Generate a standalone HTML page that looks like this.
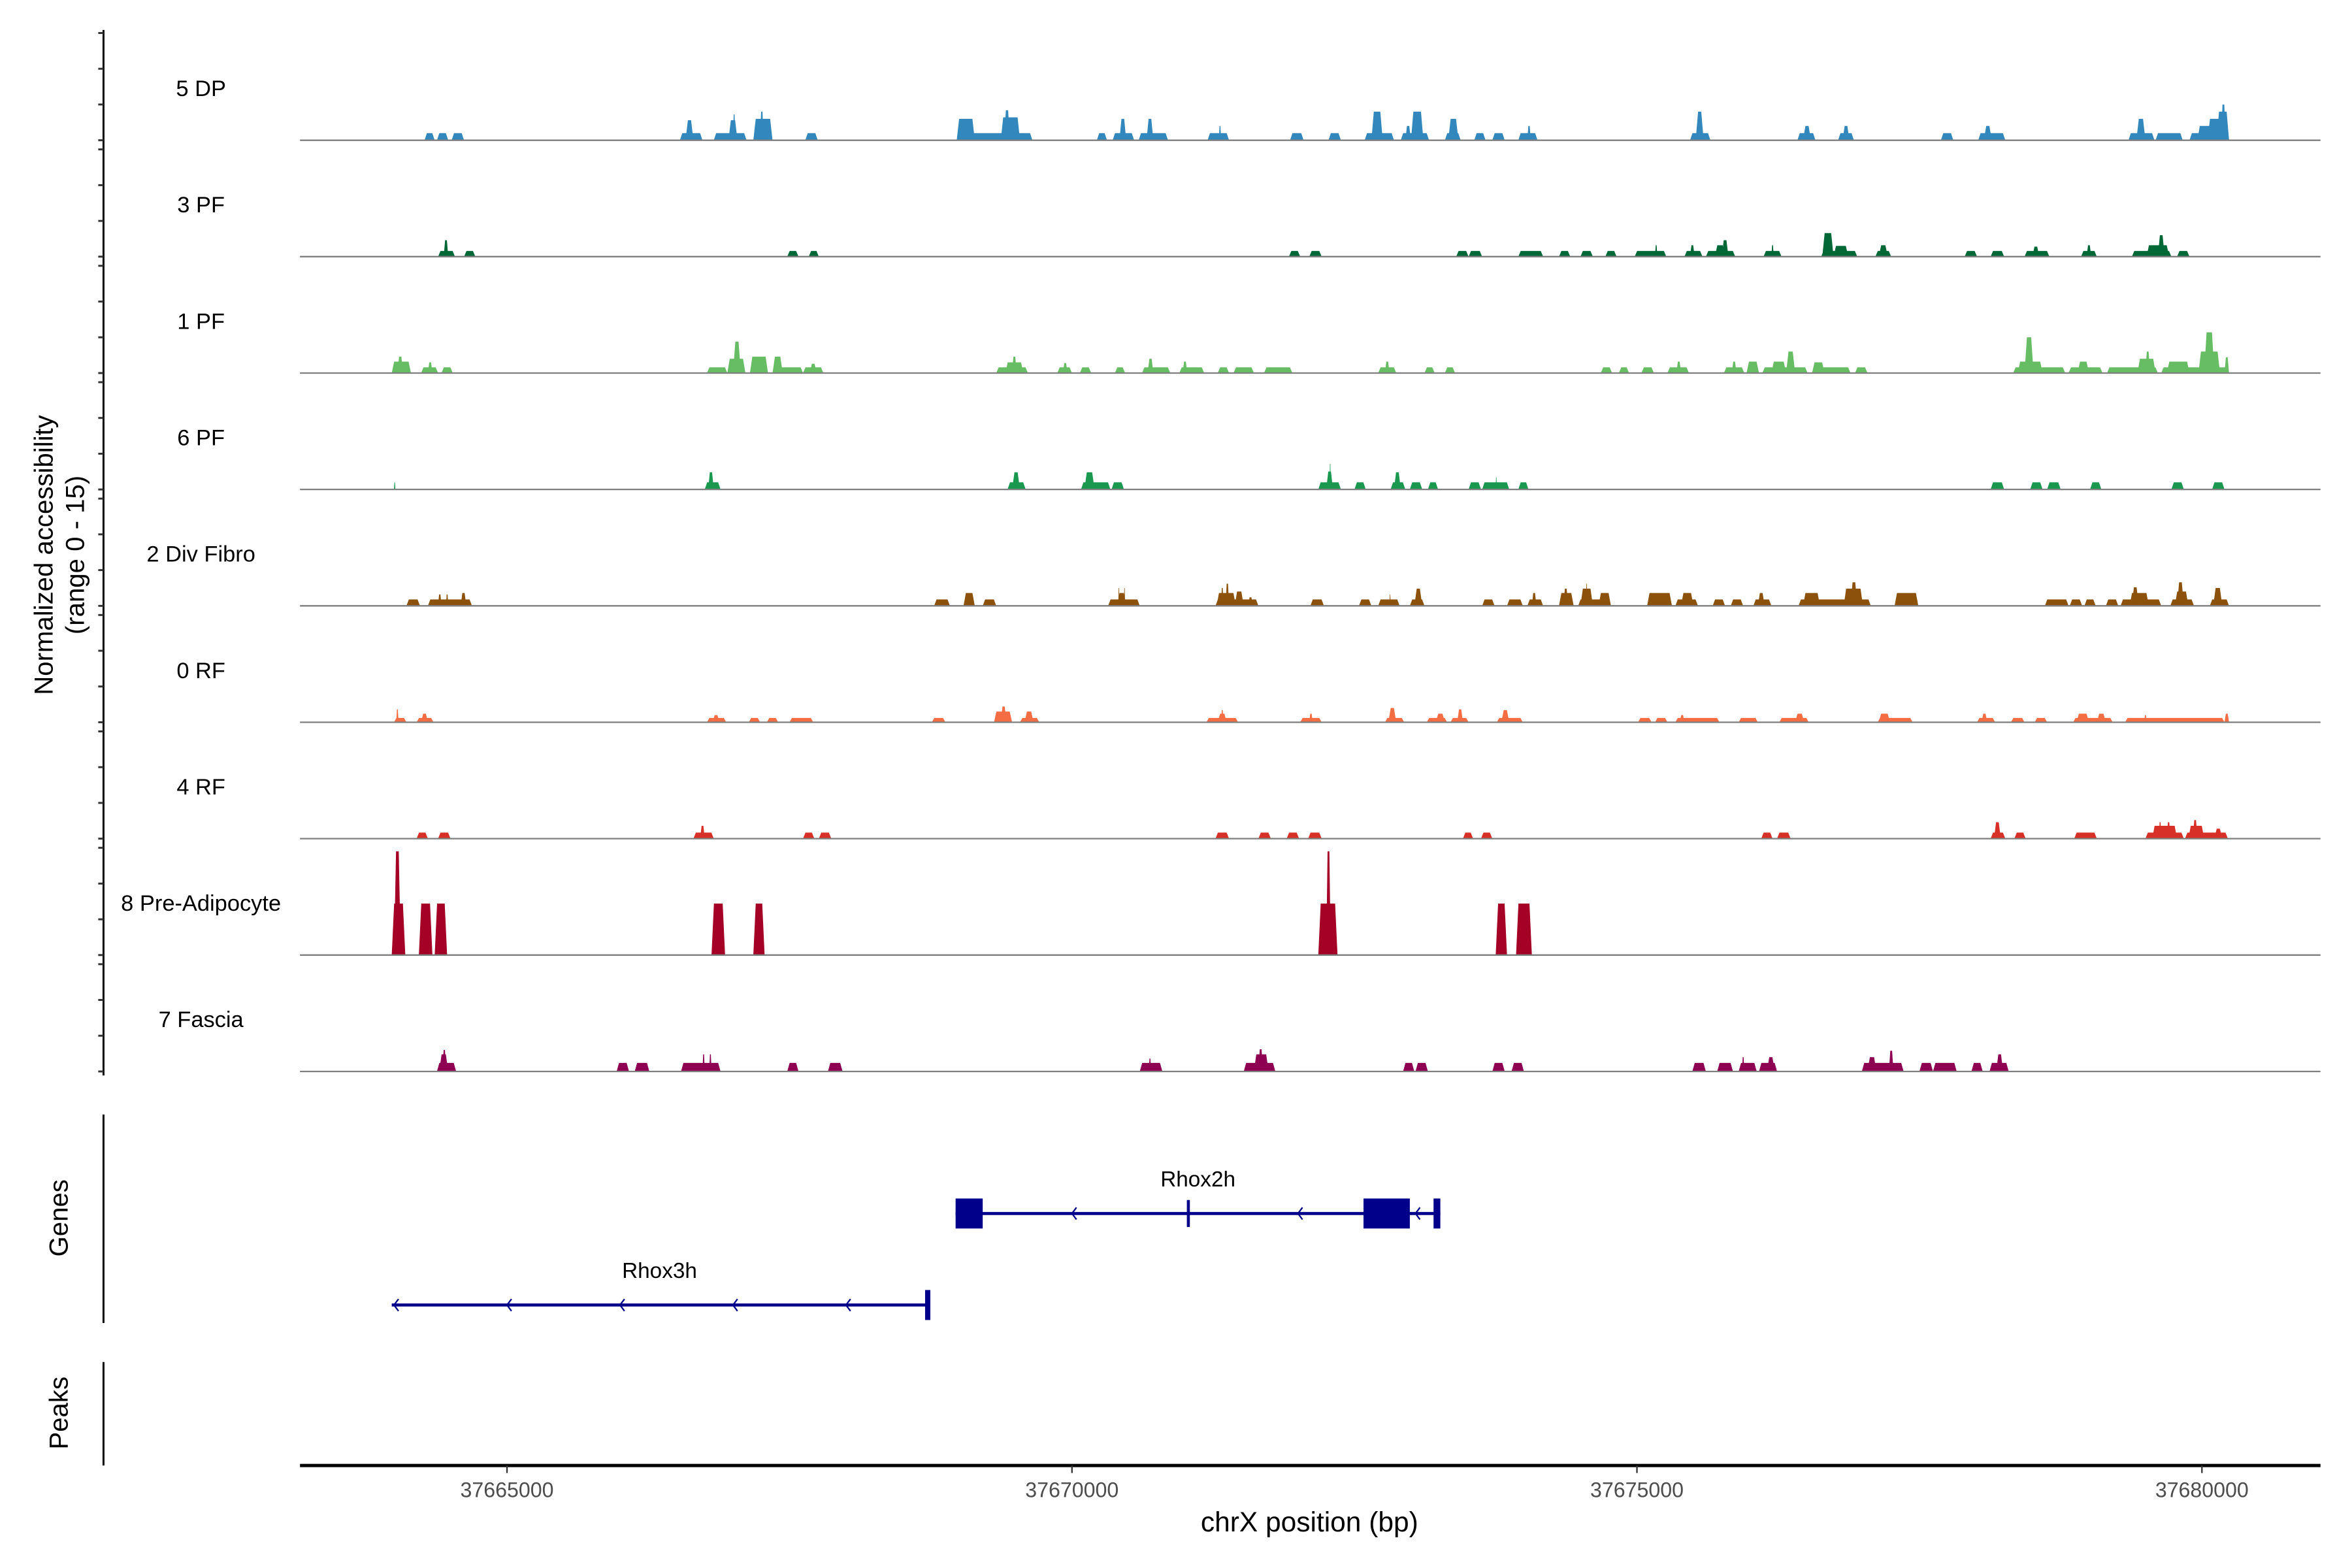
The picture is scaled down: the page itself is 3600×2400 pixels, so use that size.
<!DOCTYPE html>
<html><head><meta charset="utf-8">
<style>
html,body{margin:0;padding:0;background:#fff;}
svg{display:block;font-family:"Liberation Sans",Arial,sans-serif;}
</style></head>
<body>
<svg id="chart" width="3600" height="2400" viewBox="0 0 1568 1045.33" preserveAspectRatio="none" xmlns="http://www.w3.org/2000/svg">
<g id="tracks"></g>
<g id="genes"></g>
<g id="axes"></g>
<text transform="translate(35,370) rotate(-90)" text-anchor="middle" font-size="17.5" fill="#000">Normalized accessibility</text>
<text transform="translate(56,370) rotate(-90)" text-anchor="middle" font-size="17.5" fill="#000">(range 0 - 15)</text>
<text transform="translate(45,812) rotate(-90)" text-anchor="middle" font-size="17.5" fill="#000">Genes</text>
<text transform="translate(45,942) rotate(-90)" text-anchor="middle" font-size="17.5" fill="#000">Peaks</text>
<text x="873" y="1021" text-anchor="middle" font-size="18.5" fill="#000">chrX position (bp)</text>
</svg>
<script>
// ---- data (positions in kb, heights in normalized units 0-15) ----
const trackNames = ["5 DP","3 PF","1 PF","6 PF","2 Div Fibro","0 RF","4 RF","8 Pre-Adipocyte","7 Fascia"];
const trackColors = ["#3288BD","#006837","#66BD63","#1A9850","#8C510A","#F46D43","#D73027","#A50026","#8E0152"];
const xTicks = [37665,37670,37675,37680];
const xTickLabels = ["37665000","37670000","37675000","37680000"];
const yTickValues = [0,5,10,15];

const dp5 = [[37664.27,37664.36,1],[37664.38,37664.48,1],[37664.51,37664.62,1],
[37666.53,37666.73,1],[37666.58,37666.65,2.8],[37666.83,37667.12,1],[37666.96,37667.04,2.8],[37667.0,37667.02,3.6],
[37667.18,37667.35,3],[37667.24,37667.27,4],[37667.64,37667.75,1],
[37668.98,37669.65,1],[37668.98,37669.14,3],[37669.37,37669.54,3.2],[37669.40,37669.45,4.2],
[37670.22,37670.31,1],[37670.36,37670.55,1],[37670.42,37670.48,3],[37670.59,37670.85,1],[37670.66,37670.72,3],
[37671.20,37671.39,1],[37671.30,37671.32,2],[37671.93,37672.05,1],[37672.27,37672.38,1],
[37672.59,37672.85,1],[37672.65,37672.75,4],[37672.91,37673.16,1],[37672.95,37673.0,2],[37673.00,37673.11,4],
[37673.30,37673.44,1],[37673.33,37673.42,3],[37673.56,37673.66,1],[37673.72,37673.83,1],[37673.95,37674.12,1],[37674.03,37674.06,2],
[37675.47,37675.65,1],[37675.52,37675.59,4],[37676.42,37676.58,1],[37676.47,37676.54,2],[37676.78,37676.92,1],[37676.82,37676.88,2],
[37677.69,37677.80,1],[37678.02,37678.26,1],[37678.07,37678.14,2],
[37679.35,37679.58,1],[37679.42,37679.50,3],[37679.59,37679.83,1],
[37679.89,37680.24,1],[37679.96,37680.24,2],[37680.05,37680.24,3],[37680.13,37680.24,4],[37680.17,37680.21,5]];

const pf3 = [[37664.39,37664.54,0.8],[37664.44,37664.48,2.3],[37664.62,37664.72,0.8],[37667.48,37667.58,0.8],[37667.67,37667.76,0.8],
[37671.92,37672.02,0.8],[37672.10,37672.21,0.8],[37673.40,37673.51,0.8],[37673.51,37673.63,0.8],[37673.95,37674.17,0.8],
[37674.31,37674.41,0.8],[37674.50,37674.61,0.8],[37674.72,37674.82,0.8],[37674.98,37675.26,0.8],[37675.16,37675.18,1.6],
[37675.42,37675.58,0.8],[37675.47,37675.51,1.6],[37675.61,37675.87,0.8],[37675.69,37675.78,1.6],[37675.75,37675.81,2.3],
[37676.12,37676.28,0.8],[37676.19,37676.21,1.6],[37676.63,37676.95,0.8],[37676.64,37676.74,3.3],[37676.74,37676.87,1.5],
[37677.11,37677.25,0.8],[37677.14,37677.22,1.6],[37677.90,37678.01,0.8],[37678.13,37678.25,0.8],[37678.43,37678.65,0.8],[37678.50,37678.56,1.4],
[37678.93,37679.07,0.8],[37678.98,37679.02,1.6],[37679.38,37679.73,0.8],[37679.51,37679.71,1.6],[37679.61,37679.67,3],[37679.78,37679.89,0.8]];

const pf1 = [[37663.98,37664.15,1.6],[37664.03,37664.08,2.3],[37664.24,37664.39,0.8],[37664.30,37664.34,1.5],[37664.42,37664.52,0.8],
[37666.77,37666.95,0.8],[37666.95,37667.11,2],[37667.00,37667.07,4.4],[37667.15,37667.31,2.3],[37667.35,37667.62,0.8],[37667.35,37667.44,2.3],
[37667.62,37667.80,0.8],[37667.68,37667.74,1.3],
[37669.33,37669.61,0.8],[37669.41,37669.57,1.5],[37669.47,37669.51,2.3],[37669.87,37670.00,0.8],[37669.92,37669.96,1.4],
[37670.07,37670.17,0.8],[37670.38,37670.47,0.8],[37670.62,37670.87,0.8],[37670.67,37670.72,2],
[37670.95,37671.17,0.8],[37670.98,37671.02,1.6],[37671.29,37671.39,0.8],[37671.43,37671.61,0.8],[37671.70,37671.95,0.8],
[37672.71,37672.87,0.8],[37672.77,37672.81,1.6],[37673.12,37673.21,0.8],[37673.30,37673.39,0.8],
[37674.68,37674.78,0.8],[37674.84,37674.93,0.8],[37675.04,37675.15,0.8],[37675.27,37675.46,0.8],[37675.35,37675.39,1.6],
[37675.77,37675.95,0.8],[37675.84,37675.88,1.6],[37675.97,37676.08,1.6],[37676.11,37676.51,0.8],[37676.19,37676.32,1.6],[37676.32,37676.40,3],
[37676.55,37676.89,0.8],[37676.55,37676.66,1.5],[37676.93,37677.04,0.8],
[37678.33,37678.79,0.8],[37678.37,37678.59,1.6],[37678.43,37678.51,5],[37678.82,37679.12,0.8],[37678.90,37679.00,1.6],
[37679.16,37679.61,0.8],[37679.43,37679.59,2],[37679.50,37679.54,3],
[37679.64,37680.24,0.8],[37679.69,37679.89,1.6],[37679.97,37680.16,3],[37680.02,37680.11,5.7],[37680.20,37680.24,2.2]];

const pf6 = [[37664.0,37664.012,1],[37666.75,37666.89,1],[37666.78,37666.83,2.4],[37669.43,37669.59,1],[37669.47,37669.54,2.4],
[37670.08,37670.34,1],[37670.11,37670.20,2.4],[37670.35,37670.46,1],
[37672.18,37672.38,1],[37672.25,37672.31,2.5],[37672.28,37672.29,3.6],[37672.50,37672.60,1],[37672.82,37672.95,1],[37672.85,37672.91,2.4],
[37672.99,37673.10,1],[37673.15,37673.24,1],[37673.51,37673.62,1],[37673.63,37673.87,1],[37673.75,37673.76,1.7],[37673.95,37674.04,1],
[37678.13,37678.25,1],[37678.48,37678.59,1],[37678.63,37678.75,1],[37679.01,37679.11,1],[37679.73,37679.84,1],[37680.09,37680.20,1]];

const divFibro2 = [[37664.11,37664.23,0.9],[37664.30,37664.69,0.9],[37664.39,37664.42,1.6],[37664.46,37664.48,1.6],[37664.59,37664.64,1.8],
[37668.78,37668.92,0.9],[37669.04,37669.14,1.8],[37669.21,37669.33,0.9],
[37670.32,37670.60,0.9],[37670.40,37670.48,1.8],[37670.41,37670.42,2.5],[37670.46,37670.47,2.5],
[37671.27,37671.65,0.9],[37671.28,37671.45,1.8],[37671.32,37671.34,2.5],[37671.36,37671.39,3.1],[37671.44,37671.52,2],[37671.56,37671.60,1.2],
[37672.11,37672.23,0.9],[37672.54,37672.65,0.9],[37672.71,37672.90,0.9],[37672.81,37672.82,1.6],
[37672.99,37673.12,0.9],[37673.03,37673.10,2.4],[37673.63,37673.74,0.9],[37673.85,37673.99,0.9],[37674.03,37674.17,0.9],[37674.07,37674.11,1.8],
[37674.31,37674.44,1.8],[37674.35,37674.39,2.4],[37674.48,37674.77,0.9],[37674.50,37674.61,2.4],[37674.55,37674.56,3.1],[37674.66,37674.77,1.8],
[37675.09,37675.31,1.8],[37675.34,37675.54,0.9],[37675.39,37675.50,1.8],[37675.67,37675.78,0.9],[37675.83,37675.94,0.9],
[37676.03,37676.19,0.9],[37676.07,37676.13,1.8],[37676.43,37677.07,0.9],[37676.47,37676.62,1.8],[37676.83,37677.00,2.4],[37676.89,37676.95,3.3],
[37677.28,37677.49,1.8],[37678.61,37678.82,0.9],[37678.83,37678.94,0.9],[37678.96,37679.06,0.9],[37679.15,37679.26,0.9],
[37679.28,37679.64,0.9],[37679.36,37679.53,1.8],[37679.38,37679.44,2.6],
[37679.72,37679.93,0.9],[37679.76,37679.88,2],[37679.78,37679.84,3.3],[37680.07,37680.24,0.9],[37680.10,37680.18,2.5]];

const rf0 = [[37664.00,37664.11,0.6],[37664.02,37664.04,1.8],[37664.20,37664.35,0.6],[37664.24,37664.30,1.2],
[37666.77,37666.94,0.6],[37666.82,37666.88,1],[37667.14,37667.24,0.6],[37667.30,37667.40,0.6],[37667.50,37667.71,0.6],[37668.76,37668.88,0.6],
[37669.31,37669.47,1.5],[37669.37,37669.42,2.2],[37669.54,37669.71,0.6],[37669.58,37669.66,1.5],
[37671.19,37671.47,0.6],[37671.29,37671.37,1.2],[37671.32,37671.34,1.7],[37672.02,37672.21,0.6],[37672.10,37672.13,1.2],
[37672.77,37672.94,0.6],[37672.80,37672.87,2],[37673.14,37673.32,0.6],[37673.22,37673.30,1.2],[37673.35,37673.51,0.6],[37673.41,37673.46,1.8],
[37673.76,37673.99,0.6],[37673.80,37673.87,1.7],[37675.01,37675.13,0.6],[37675.16,37675.27,0.6],[37675.34,37675.73,0.6],[37675.38,37675.42,1],
[37675.90,37676.07,0.6],[37676.26,37676.52,0.6],[37676.40,37676.48,1.2],[37677.13,37677.44,0.6],[37677.14,37677.24,1.2],
[37678.01,37678.17,0.6],[37678.05,37678.10,1.2],[37678.31,37678.43,0.6],[37678.52,37678.63,0.6],
[37678.86,37679.21,0.6],[37678.89,37679.00,1.2],[37679.07,37679.15,1.2],[37679.32,37680.20,0.6],[37679.49,37679.51,1.0],[37680.20,37680.24,1.2]];

const rf4 = [[37664.20,37664.30,0.85],[37664.39,37664.50,0.85],[37666.65,37666.83,0.85],[37666.71,37666.75,1.8],
[37667.62,37667.72,0.85],[37667.76,37667.87,0.85],[37671.27,37671.39,0.85],[37671.65,37671.76,0.85],[37671.90,37672.01,0.85],[37672.09,37672.21,0.85],
[37673.46,37673.55,0.85],[37673.62,37673.72,0.85],[37676.10,37676.20,0.85],[37676.24,37676.36,0.85],
[37678.13,37678.26,0.85],[37678.16,37678.22,2.3],[37678.34,37678.44,0.85],[37678.87,37679.07,0.85],
[37679.50,37679.84,0.85],[37679.56,37679.78,1.8],[37679.62,37679.64,2.3],[37679.69,37679.72,2.3],
[37679.85,37680.23,0.85],[37679.88,37680.02,1.8],[37679.92,37679.96,2.6],[37680.11,37680.18,1.4]];

const preAdipo8 = [[37663.98,37664.10,7.2],[37664.00,37664.06,14.5],[37664.22,37664.34,7.2],[37664.36,37664.47,7.2],
[37666.81,37666.93,7.2],[37667.18,37667.28,7.2],[37672.18,37672.35,7.2],[37672.25,37672.29,14.5],
[37673.75,37673.85,7.2],[37673.93,37674.07,7.2]];

const fascia7 = [[37664.38,37664.55,1.2],[37664.40,37664.48,2.4],[37664.43,37664.46,3],[37665.97,37666.08,1.2],[37666.13,37666.26,1.2],
[37666.54,37666.89,1.2],[37666.73,37666.75,2.4],[37666.79,37666.81,2.4],[37667.48,37667.58,1.2],[37667.84,37667.97,1.2],
[37670.60,37670.80,1.2],[37670.68,37670.70,1.8],[37671.52,37671.80,1.2],[37671.61,37671.74,2.4],[37671.65,37671.69,3.1],
[37672.93,37673.03,1.2],[37673.04,37673.15,1.2],[37673.72,37673.83,1.2],[37673.89,37674.00,1.2],
[37675.49,37675.61,1.2],[37675.71,37675.85,1.2],[37675.90,37676.06,1.2],[37675.93,37675.95,2],[37676.08,37676.24,1.2],[37676.15,37676.22,2],
[37676.99,37677.36,1.2],[37677.04,37677.12,2],[37677.23,37677.27,2.9],[37677.50,37677.62,1.2],[37677.62,37677.83,1.2],
[37677.96,37678.06,1.2],[37678.12,37678.29,1.2],[37678.18,37678.24,2.4]];

const trackSegments = [dp5,pf3,pf1,pf6,divFibro2,rf0,rf4,preAdipo8,fascia7];

// genes
const geneNames = ["Rhox2h","Rhox3h"];
const geneStart = [37668.97,37663.98];
const geneEnd = [37673.26,37668.72];
const geneExons2h = [[37668.97,37669.21],[37672.58,37672.99],[37673.20,37673.26]];
const geneMarks2h = [37671.03];
const geneArrows2h = [37670.0,37672.0,37673.04];
const geneArrows3h = [37664.0,37665.0,37666.0,37667.0,37668.0];
const geneEnds3h = [37668.72];

// ---- scales ----
const X0 = 200, X1 = 1547;
const KB0 = 37665, PXPERKB = 75.33, PX0 = 338;
function xs(kb){ return PX0 + (kb - KB0) * PXPERKB; }
const TRACK_TOP = 22, TRACK_STEP = 77.6, TRACK_H = 71.5, VMAX = 15;
function baseY(i){ return TRACK_TOP + i*TRACK_STEP + TRACK_H; }
function ys(i, v){ return baseY(i) - v * TRACK_H / VMAX; }

const NS = "http://www.w3.org/2000/svg";
function mk(tag, attrs, parent){ const e = document.createElementNS(NS, tag); for (const k in attrs) e.setAttribute(k, attrs[k]); parent.appendChild(e); return e; }

const tracksG = document.getElementById('tracks');
trackSegments.forEach((segs, i) => {
  const g = mk('g', {}, tracksG);
  
  
  const lbl = mk('text', {x:134, y: TRACK_TOP + i*TRACK_STEP + 42, 'text-anchor':'middle', 'font-size':15, fill:'#000'}, g);
  lbl.textContent = trackNames[i];
  
  
  const by = baseY(i);
  segs.forEach(s => {
    const xa = xs(s[0]), xb = xs(s[1]), yt = ys(i, s[2]);
    const w = xb - xa, sl = Math.min(1.6, w*0.3);
    const p = mk('polygon', {points: `${xa},${by} ${xa+sl},${yt} ${xb-sl},${yt} ${xb},${by}`, fill: trackColors[i]}, g);
    
    
  });
  const bl = mk('line', {x1:X0, x2:X1, y1:by, y2:by, stroke:'#7f7f7f', 'stroke-width':1}, g);
  
  
});

// axes
const axesG = document.getElementById('axes');
const ya = mk('line', {x1:69, x2:69, y1:20, y2:717, stroke:'#000', 'stroke-width':1.3}, axesG);


trackNames.forEach((n, i) => {
  yTickValues.forEach(v => {
    const t = mk('line', {x1:65.5, x2:69, y1:ys(i,v), y2:ys(i,v), stroke:'#333', 'stroke-width':1.3}, axesG);
    
    
  });
});
const ga = mk('line', {x1:69, x2:69, y1:743, y2:882, stroke:'#000', 'stroke-width':1.3}, axesG);


const pa = mk('line', {x1:69, x2:69, y1:908, y2:977, stroke:'#000', 'stroke-width':1.3}, axesG);


const xa = mk('line', {x1:X0, x2:X1, y1:977, y2:977, stroke:'#000', 'stroke-width':2.2}, axesG);


xTicks.forEach((kb, j) => {
  const t = mk('line', {x1:xs(kb), x2:xs(kb), y1:977, y2:982, stroke:'#333', 'stroke-width':1}, axesG);
  
  
  const l = mk('text', {x:xs(kb), y:998, 'text-anchor':'middle', 'font-size':14, fill:'#4d4d4d'}, axesG);
  l.textContent = xTickLabels[j];
  
  
});

// genes
const genesG = document.getElementById('genes');
const GC = '#00008B';
function chevron(x, y){
  const c = mk('polyline', {points:`${x+3},${y-4} ${x},${y} ${x+3},${y+4}`, fill:'none', stroke:GC, 'stroke-width':1}, genesG);
  
  
}
// Rhox2h
{
  const y = 809;
  const l = mk('line', {x1:xs(geneStart[0]), x2:xs(geneEnd[0]), y1:y, y2:y, stroke:GC, 'stroke-width':2}, genesG);
  
  
  geneExons2h.forEach(e => {
    const r = mk('rect', {x:xs(e[0]), y:y-10, width:Math.max(3, xs(e[1])-xs(e[0])), height:20, fill:GC}, genesG);
    
    
  });
  geneMarks2h.forEach(m => {
    const r = mk('rect', {x:xs(m)-1, y:y-9, width:2, height:18, fill:GC}, genesG);
    
    
  });
  geneArrows2h.forEach(a => chevron(xs(a), y));
  const t = mk('text', {x:(xs(geneStart[0])+xs(geneEnd[0]))/2, y:791, 'text-anchor':'middle', 'font-size':14.5, fill:'#000'}, genesG);
  t.textContent = geneNames[0];
  
  
}
// Rhox3h
{
  const y = 870;
  const l = mk('line', {x1:xs(geneStart[1]), x2:xs(geneEnd[1]), y1:y, y2:y, stroke:GC, 'stroke-width':2}, genesG);
  
  
  geneEnds3h.forEach(m => {
    const r = mk('rect', {x:xs(m)-1.5, y:y-10, width:3.5, height:20, fill:GC}, genesG);
    
    
  });
  geneArrows3h.forEach(a => chevron(xs(a), y));
  const t = mk('text', {x:(xs(geneStart[1])+xs(geneEnd[1]))/2, y:852, 'text-anchor':'middle', 'font-size':14.5, fill:'#000'}, genesG);
  t.textContent = geneNames[1];
  
  
}
</script>
</body></html>
